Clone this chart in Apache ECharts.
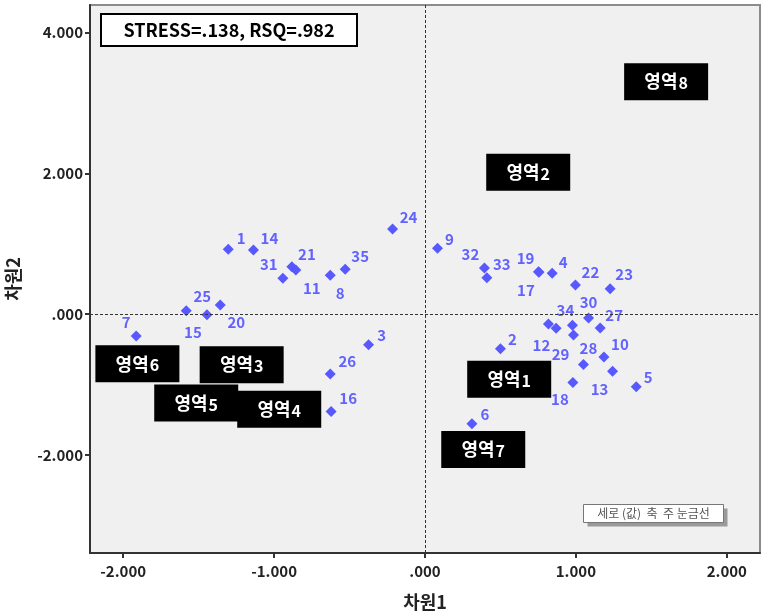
<!DOCTYPE html>
<html>
<head>
<meta charset="utf-8">
<script src="https://cdn.jsdelivr.net/npm/echarts@6/dist/echarts.min.js"></script>
<style>
  html, body { margin: 0; padding: 0; background: #fff; }
  #chart { width: 765px; height: 615px; }
</style>
</head>
<body>
<div id="chart"></div>
<script>
// 자극 번호 (36번은 라벨이 가려져 있음)
const pointNames = [
  "1", "14", "31", "21", "11", "8", "35", "24", "25", "15", "20", "7",
  "3", "26", "16", "9", "32", "33", "19", "17", "4", "22", "23", "30",
  "27", "12", "36", "34", "29", "28", "10", "13", "5", "2", "18", "6"
];
// 차원1
const dim1 = [
  -1.304, -1.137, -0.942, -0.882, -0.856, -0.628, -0.529, -0.215, -1.582, -1.445, -1.357, -1.914,
  -0.374, -0.628, -0.622, 0.083, 0.394, 0.410, 0.752, 0.755, 0.843, 0.997, 1.227, 1.084,
  1.161, 0.818, 0.869, 0.977, 0.984, 1.050, 1.186, 1.243, 1.400, 0.500, 0.980, 0.311
];
// 차원2
const dim2 = [
  0.922, 0.912, 0.511, 0.675, 0.628, 0.553, 0.638, 1.210, 0.051, -0.006, 0.132, -0.308,
  -0.435, -0.847, -1.382, 0.936, 0.657, 0.519, 0.604, 0.597, 0.582, 0.416, 0.363, -0.052,
  -0.194, -0.138, -0.199, -0.156, -0.294, -0.715, -0.606, -0.809, -1.031, -0.492, -0.970, -1.556
];

// 영역 라벨
const regionNames = ["영역1", "영역2", "영역3", "영역4", "영역5", "영역6", "영역7", "영역8"];
const regionX = [0.558, 0.684, -1.215, -0.966, -1.516, -1.906, 0.386, 1.598];
const regionY = [-0.922, 2.014, -0.716, -1.348, -1.262, -0.702, -1.922, 3.302];

const xTicks = [-2, -1, 0, 1, 2];
const yTicks = [-2, 0, 2, 4];

// 라벨 위치 (점 기준 px)
const labelOffsets = {
  "1": [13, -11], "14": [16, -12], "31": [-14, -14], "21": [15, -12], "11": [16, 18],
  "8": [10, 18], "35": [15, -13], "24": [16, -12], "25": [16, -14], "15": [-14, 18],
  "20": [16, 17], "7": [-10, -14], "3": [13, -10], "26": [17, -13], "16": [17, -13],
  "9": [12, -9], "32": [-14, -14], "33": [15, -13], "19": [-13, -13], "17": [-13, 18],
  "4": [11, -11], "22": [15, -13], "23": [14, -14], "30": [0, -16], "27": [14, -13],
  "12": [-7, 21], "34": [-7, -15], "29": [-13, 19], "28": [5, -16], "10": [16, -13],
  "13": [-13, 18], "5": [12, -10], "2": [12, -10], "18": [-13, 17], "6": [13, -10]
};

const FONT = "'Noto Sans CJK KR', 'Noto Sans', sans-serif";

function fmt(v) {
  let s = Math.abs(v).toFixed(3);
  if (s.startsWith("0")) s = s.slice(1);
  return (v < 0 ? "-" : "") + s;
}

const points = pointNames.map((n, i) => {
  const off = labelOffsets[n];
  return {
    name: n,
    value: [dim1[i], dim2[i]],
    label: off ? { show: true, offset: off } : { show: false }
  };
});

const regions = regionNames.map((n, i) => ({ name: n, value: [regionX[i], regionY[i]] }));

const chart = echarts.init(document.getElementById("chart"));

const options = {
  animation: false,
  grid: {
    left: 90,
    right: 5,
    top: 5,
    bottom: 62,
    outerBoundsMode: "none",
    containLabel: false,
    show: true,
    backgroundColor: "#f0f0f0",
    borderColor: "#8c8c8c",
    borderWidth: 2
  },
  xAxis: {
    type: "value",
    min: -2.22,
    max: 2.22,
    name: "차원1",
    nameLocation: "middle",
    nameGap: 40,
    nameTextStyle: { fontFamily: FONT, fontSize: 18, fontWeight: "bold", color: "#222" },
    axisLine: { onZero: false, lineStyle: { color: "#333", width: 2 } },
    axisTick: { show: true, length: 5, customValues: xTicks, lineStyle: { color: "#333", width: 2 } },
    axisLabel: {
      customValues: xTicks,
      formatter: fmt,
      margin: 11,
      fontFamily: FONT,
      fontSize: 15,
      fontWeight: "bold",
      color: "#222"
    },
    splitLine: { show: false }
  },
  yAxis: {
    type: "value",
    min: -3.39,
    max: 4.39,
    name: "차원2",
    nameLocation: "middle",
    nameRotate: 90,
    nameGap: 68,
    nameTextStyle: { fontFamily: FONT, fontSize: 18, fontWeight: "bold", color: "#222" },
    axisLine: { onZero: false, lineStyle: { color: "#333", width: 2 } },
    axisTick: { show: true, length: 5, customValues: yTicks, lineStyle: { color: "#333", width: 2 } },
    axisLabel: {
      customValues: yTicks,
      formatter: fmt,
      margin: 7,
      padding: [10, 0, 0, 0],
      fontFamily: FONT,
      fontSize: 15,
      fontWeight: "bold",
      color: "#222"
    },
    splitLine: { show: false }
  },
  series: [
    {
      type: "scatter",
      symbol: "diamond",
      symbolSize: 11,
      itemStyle: { color: "#5858ff", opacity: 1 },
      label: {
        position: "inside",
        formatter: "{b}",
        fontFamily: FONT,
        fontSize: 15,
        fontWeight: "bold",
        color: "#6262ff",
        align: "center",
        verticalAlign: "middle"
      },
      markLine: {
        silent: true,
        symbol: "none",
        label: { show: false },
        lineStyle: { color: "#333", type: [3, 2], width: 1 },
        data: [{ xAxis: 0 }, { yAxis: 0 }]
      },
      data: points,
      z: 3
    },
    {
      type: "scatter",
      symbol: "rect",
      symbolSize: [84, 37],
      itemStyle: { color: "#000", opacity: 1 },
      label: {
        show: true,
        position: "inside",
        formatter: (p) => "{a|" + p.name.slice(0, 2) + "}{b|" + p.name.slice(2) + "}",
        rich: {
          a: { fontFamily: FONT, fontSize: 18, fontWeight: "bold", color: "#fff" },
          b: { fontFamily: FONT, fontSize: 16, fontWeight: "bold", color: "#fff", padding: [3, 0, 0, 1] }
        }
      },
      data: regions,
      z: 4
    }
  ],
  graphic: [
    {
      type: "group",
      left: 100,
      top: 13,
      children: [
        {
          type: "rect",
          shape: { x: 0, y: 0, width: 256, height: 32 },
          style: { fill: "#fff", stroke: "#000", lineWidth: 2 }
        },
        {
          type: "text",
          x: 128,
          y: 16,
          style: {
            text: "STRESS=.138, RSQ=.982",
            fontFamily: FONT,
            fontSize: 18,
            fontWeight: "bold",
            fill: "#000",
            align: "center",
            verticalAlign: "middle"
          }
        }
      ]
    },
    {
      type: "group",
      left: 583,
      top: 504,
      children: [
        {
          type: "rect",
          shape: { x: 4, y: 4, width: 140, height: 18 },
          style: { fill: "#9a9a9a" }
        },
        {
          type: "rect",
          shape: { x: 0, y: 0, width: 140, height: 18 },
          style: { fill: "#fff", stroke: "#777", lineWidth: 1 }
        },
        {
          type: "text",
          x: 70,
          y: 9,
          style: {
            text: "세로 (값)  축  주 눈금선",
            fontFamily: FONT,
            fontSize: 12,
            fill: "#555",
            align: "center",
            verticalAlign: "middle"
          }
        }
      ]
    }
  ]
};

chart.setOption(options);
window.addEventListener("resize", () => {
  chart.resize();
});
</script>
</body>
</html>
